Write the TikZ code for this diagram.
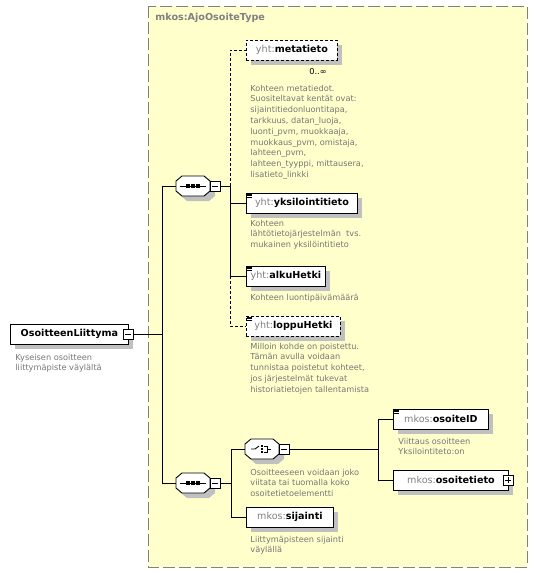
\documentclass[tikz,border=0pt]{standalone}
\usepackage{fontspec}
\setmainfont{DejaVu Sans}
\usetikzlibrary{shadows}
\definecolor{typebg}{RGB}{255,255,204}
\definecolor{typeborder}{RGB}{128,128,128}
\definecolor{pfxgray}{RGB}{128,128,128}
\definecolor{docgray}{RGB}{118,118,118}
\definecolor{shadowgray}{RGB}{192,192,192}
\newcommand{\pfx}[1]{\textcolor{pfxgray}{\mdseries #1}}
\newcommand{\annot}[1]{%
  \foreach \dy in {1.5,3,4.5}
    \draw[line width=0.6pt] ([shift={(1,\dy)}]#1.north west) -- ++(5,0);}
\newcommand{\compositorbox}[1]{%
  \begin{scope}[shift={(#1.center)}]
    \fill[shadowgray] (-12,0) -- (-6,-5) -- (16,-5) -- (22,0) -- (22,10) -- (16,15) -- (-6,15) -- (-12,10) -- cycle;
    \filldraw[fill=white] (-17,-5) -- (-11,-10) -- (11,-10) -- (17,-5) -- (17,5) -- (11,10) -- (-11,10) -- (-17,5) -- cycle;
  \end{scope}}
\newcommand{\seqicon}[1]{%
  \draw ([shift={(-13,0)}]#1.center) -- ([shift={(13,0)}]#1.center);
  \foreach \dx in {-5,0,5}
    \fill ([shift={(\dx,0)}]#1.center) +(-1.6,-1.6) rectangle +(1.6,1.6);}
\newcommand{\choiceicon}[1]{%
  \draw ([shift={(-11,0)}]#1.center) -- ([shift={(-7,0)}]#1.center) -- ([shift={(-3,-3)}]#1.center);
  \foreach \dy in {-3,0,3}
    \fill ([shift={(0,\dy)}]#1.center) +(-1.1,-1.1) rectangle +(1.1,1.1);
  \draw ([shift={(2,-3)}]#1.center) -| ([shift={(5,3)}]#1.center) -- ([shift={(2,3)}]#1.center);
  \draw ([shift={(5,0)}]#1.center) -- ([shift={(9,0)}]#1.center);}
\begin{document}
\begin{tikzpicture} [x=1pt, y=-1pt, line width=0.9pt,
      element/.style={draw, fill=white, anchor=west, minimum height=20pt, inner sep=2pt,
        font=\fontsize{9.6}{11}\selectfont\bfseries,
        drop shadow={shadow xshift=5pt, shadow yshift=-5pt, fill=shadowgray, opacity=1}},
      optional/.style={element, dash pattern=on 3pt off 2pt},
      compositor/.style={minimum width=34pt, minimum height=20pt, inner sep=0pt},
      expander/.style={draw, fill=white, minimum size=10pt, inner sep=0pt,
        path picture={\draw ([xshift=2pt]path picture bounding box.west) -- ([xshift=-2pt]path picture bounding box.east);}},
      expanderplus/.style={draw, fill=white, minimum size=10pt, inner sep=0pt,
        path picture={\draw ([xshift=2pt]path picture bounding box.west) -- ([xshift=-2pt]path picture bounding box.east);
          \draw ([yshift=-2pt]path picture bounding box.north) -- ([yshift=2pt]path picture bounding box.south);}},
      doc/.style={anchor=north west, inner sep=0pt, text=docgray, font=\fontsize{8.2}{10.8}\selectfont},
      optline/.style={dash pattern=on 3pt off 2pt}
   ]
    \useasboundingbox (0,0) rectangle (537,573);
    \draw[typeborder, fill=typebg, dash pattern=on 12pt off 4pt] (148,6) rectangle (527,567);
    \node[anchor=west, inner sep=0pt, text=pfxgray, font=\fontsize{9.6}{11}\selectfont\bfseries] (typename) at (155,18) {mkos:AjoOsoiteType};

    \node[element, minimum width=118pt] (root) at (10,334) {OsoitteenLiittyma};
    \node[expander] (rootexp) at (128,334) {};
    \node[doc] (rootdoc) at (15,352) {
      \begin{tabular}{@{}l@{}}
        Kyseisen osoitteen\\
        liittymäpiste väylältä
      \end{tabular}
    };

    \node[compositor] (seq1) at (193,186) {};
    \compositorbox{seq1}
    \seqicon{seq1}
    \node[expander] (seq1exp) at (215,186) {};

    \node[optional, minimum width=91pt] (meta) at (246,50) {\pfx{yht:}metatieto};
    \node[font=\fontsize{8.2}{10}\selectfont, inner sep=0pt] (metaocc) at (318,72) {0..∞};
    \node[doc] (metadoc) at (250,83) {
      \begin{tabular}{@{}l@{}}
        Kohteen metatiedot.\\
        Suositeltavat kentät ovat:\\
        sijaintitiedonluontitapa,\\
        tarkkuus, datan\_luoja,\\
        luonti\_pvm, muokkaaja,\\
        muokkaus\_pvm, omistaja,\\
        lahteen\_pvm,\\
        lahteen\_tyyppi, mittausera,\\
        lisatieto\_linkki
      \end{tabular}
    };
    \node[element, minimum width=111pt] (yks) at (246,203) {\pfx{yht:}yksilointitieto};
    \annot{yks}
    \node[doc] (yksdoc) at (250,218) {
      \begin{tabular}{@{}l@{}}
        Kohteen\\
        lähtötietojärjestelmän \ tvs.\\
        mukainen yksilöintitieto
      \end{tabular}
    };
    \node[element, minimum width=79pt] (alku) at (246,276) {\pfx{yht:}alkuHetki};
    \annot{alku}
    \node[doc] (alkudoc) at (250,292) {
      \begin{tabular}{@{}l@{}}
        Kohteen luontipäivämäärä
      \end{tabular}
    };
    \node[optional, minimum width=94pt] (loppu) at (246,326) {\pfx{yht:}loppuHetki};
    \annot{loppu}
    \node[doc] (loppudoc) at (250,341) {
      \begin{tabular}{@{}l@{}}
        Milloin kohde on poistettu.\\
        Tämän avulla voidaan\\
        tunnistaa poistetut kohteet,\\
        jos järjestelmät tukevat\\
        historiatietojen tallentamista
      \end{tabular}
    };

    \node[compositor] (seq2) at (193,483) {};
    \compositorbox{seq2}
    \seqicon{seq2}
    \node[expander] (seq2exp) at (215,483) {};
    \node[compositor] (choice) at (262,449) {};
    \compositorbox{choice}
    \choiceicon{choice}
    \node[expander] (choiceexp) at (284,449) {};
    \node[doc] (choicedoc) at (250,467) {
      \begin{tabular}{@{}l@{}}
        Osoitteeseen voidaan joko\\
        viitata tai tuomalla koko\\
        osoitetietoelementti
      \end{tabular}
    };
    \node[element, minimum width=95pt] (osoiteid) at (393,419) {\pfx{mkos:}osoiteID};
    \annot{osoiteid}
    \node[doc] (osoiteiddoc) at (398,436) {
      \begin{tabular}{@{}l@{}}
        Viittaus osoitteen\\
        Yksilointiteto:on
      \end{tabular}
    };
    \node[element, minimum width=115pt] (osoitetieto) at (393,480) {\pfx{mkos:}osoitetieto};
    \node[expanderplus] (osoitetietoexp) at (508,480) {};
    \node[element, minimum width=87pt] (sijainti) at (246,517) {\pfx{mkos:}sijainti};
    \node[doc] (sijaintidoc) at (250,534) {
      \begin{tabular}{@{}l@{}}
        Liittymäpisteen sijainti\\
        väylällä
      \end{tabular}
    };

    \coordinate (rootfork) at (162,334);
    \coordinate (seq1fork) at (230,186);
    \coordinate (seq2fork) at (231,483);
    \coordinate (choicefork) at (378,449);

    \draw (rootexp) -- (rootfork);
    \draw (rootfork) |- (seq1.west);
    \draw (rootfork) |- (seq2.west);
    \draw (seq1exp) -- (seq1fork);
    \draw[optline] (seq1fork) |- (meta.west);
    \draw (seq1fork) |- (alku.west);
    \draw (seq1fork |- yks.west) -- (yks.west);
    \draw[optline] (seq1fork |- alku.west) |- (loppu.west);
    \draw (seq2exp) -- (seq2fork);
    \draw (seq2fork) |- (choice.west);
    \draw (seq2fork) |- (sijainti.west);
    \draw (choiceexp) -- (choicefork);
    \draw (choicefork) |- (osoiteid.west);
    \draw (choicefork) |- (osoitetieto.west);
  \end{tikzpicture}
\end{document}
